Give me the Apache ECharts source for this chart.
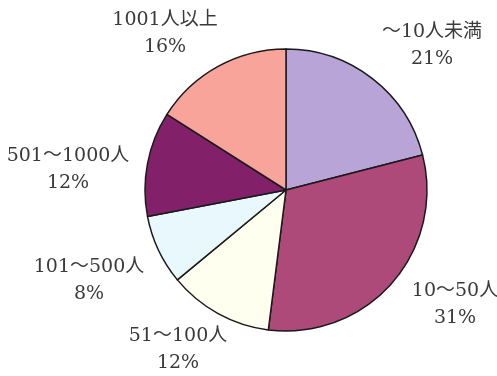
<!DOCTYPE html>
<html>
<head>
<meta charset="utf-8">
<script src="https://cdn.jsdelivr.net/npm/echarts@6/dist/echarts.min.js"></script>
<style>
  html, body { margin: 0; padding: 0; background: #fff; }
  #chart { width: 497px; height: 376px; }
</style>
</head>
<body>
<div id="chart"></div>
<script>
// Employee-size bands, clockwise from 12 o'clock
const categories = ['～10人未満', '10～50人', '51～100人', '101～500人', '501～1000人', '1001人以上'];
const shares = [21, 31, 12, 8, 12, 16];
const sliceColors = ['#b9a4d8', '#ad4a7a', '#fffff0', '#e9f8fd', '#83206a', '#f9a49b'];
// Where each two-line label sits (centre of the text block, px)
const labelSpots = [[432, 46], [455, 305], [178, 350], [89, 281], [68, 170], [165, 34]];

const chart = echarts.init(document.getElementById('chart'), null, { renderer: 'canvas' });

chart.setOption({
  backgroundColor: '#ffffff',
  animation: false,
  series: [{
    type: 'pie',
    center: [286, 190],
    radius: [0, 141],
    startAngle: 90,
    clockwise: true,
    avoidLabelOverlap: false,
    data: categories.map((name, i) => ({
      name: name,
      value: shares[i],
      itemStyle: { color: sliceColors[i] }
    })),
    itemStyle: { borderColor: '#1a1a1a', borderWidth: 1.5 },
    emphasis: { disabled: true },
    label: {
      show: true,
      position: 'outside',
      formatter: '{b}\n{c}%',
      color: '#3a3a3a',
      fontFamily: '"DejaVu Serif", "Liberation Serif", "Noto Sans CJK JP", serif',
      fontSize: 19,
      lineHeight: 27,
      align: 'center',
      overflow: 'none',
      width: 200
    },
    labelLine: { show: false },
    labelLayout: function (params) {
      const p = labelSpots[params.dataIndex];
      return { x: p[0], y: p[1], align: 'center', verticalAlign: 'middle' };
    }
  }]
});
</script>
</body>
</html>
